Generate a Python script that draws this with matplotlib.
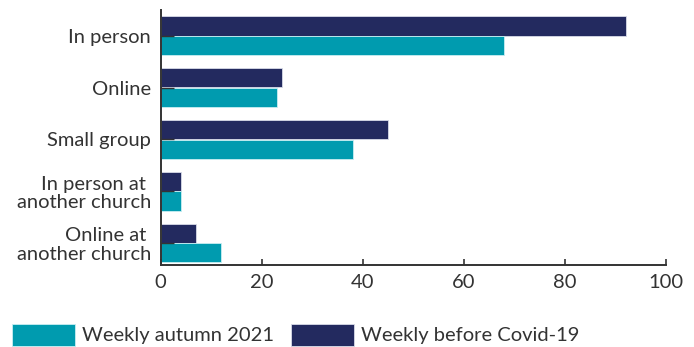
import numpy as np
from matplotlib import pyplot as plt

plt.rcParams['font.family'] = ['Lato', 'DejaVu Sans']

categories = ["In person", "Online", "Small group",
              "In person at \nanother church", "Online at \nanother church"]
before_covid = [92, 24, 45, 4, 7]
autumn_2021 = [68, 23, 38, 4, 12]

navy = "#232A5F"
teal = "#009BAF"
ink = "#333333"
fs = 14.5

fig = plt.figure(figsize=(6.94, 3.47), dpi=100)
ax = fig.add_axes([0.2316, 0.2349, 0.7281, 0.7363])

y = np.arange(len(categories))
h = 0.37
ax.barh(y - 0.19, before_covid, height=h, color=navy, edgecolor="#d8dbe8",
        linewidth=0.6, label="Weekly before Covid-19", zorder=2)
ax.barh(y + 0.19, autumn_2021, height=h, color=teal, edgecolor="#c8eef2",
        linewidth=0.6, label="Weekly autumn 2021", zorder=2)
ax.set_axisbelow(False)

ax.set_xlim(0, 100)
ax.set_ylim(4.435, -0.5)
ax.set_xticks([0, 20, 40, 60, 80, 100])
ax.set_yticks(y)
ax.set_yticklabels(categories, linespacing=1.1)

for s in ["top", "right"]:
    ax.spines[s].set_visible(False)
for s in ["left", "bottom"]:
    ax.spines[s].set_color(ink)
    ax.spines[s].set_linewidth(1.4)

ax.tick_params(axis="x", direction="in", length=4, width=1.2, color=ink,
               labelsize=fs, labelcolor=ink, pad=6)
ax.tick_params(axis="y", direction="in", length=9.4, width=1, color=ink,
               labelsize=fs, labelcolor=ink, pad=7)

# legend order: teal first, then navy
handles, labels = ax.get_legend_handles_labels()
fig.legend(handles[::-1], labels[::-1], loc="lower left",
           bbox_to_anchor=(12 / 694, 1 / 347), ncol=2, frameon=False,
           fontsize=fs, labelcolor=ink, handlelength=3.13, handleheight=1.34,
           handletextpad=0.35, columnspacing=0.85, borderpad=0,
           borderaxespad=0)

plt.savefig("out.png")
